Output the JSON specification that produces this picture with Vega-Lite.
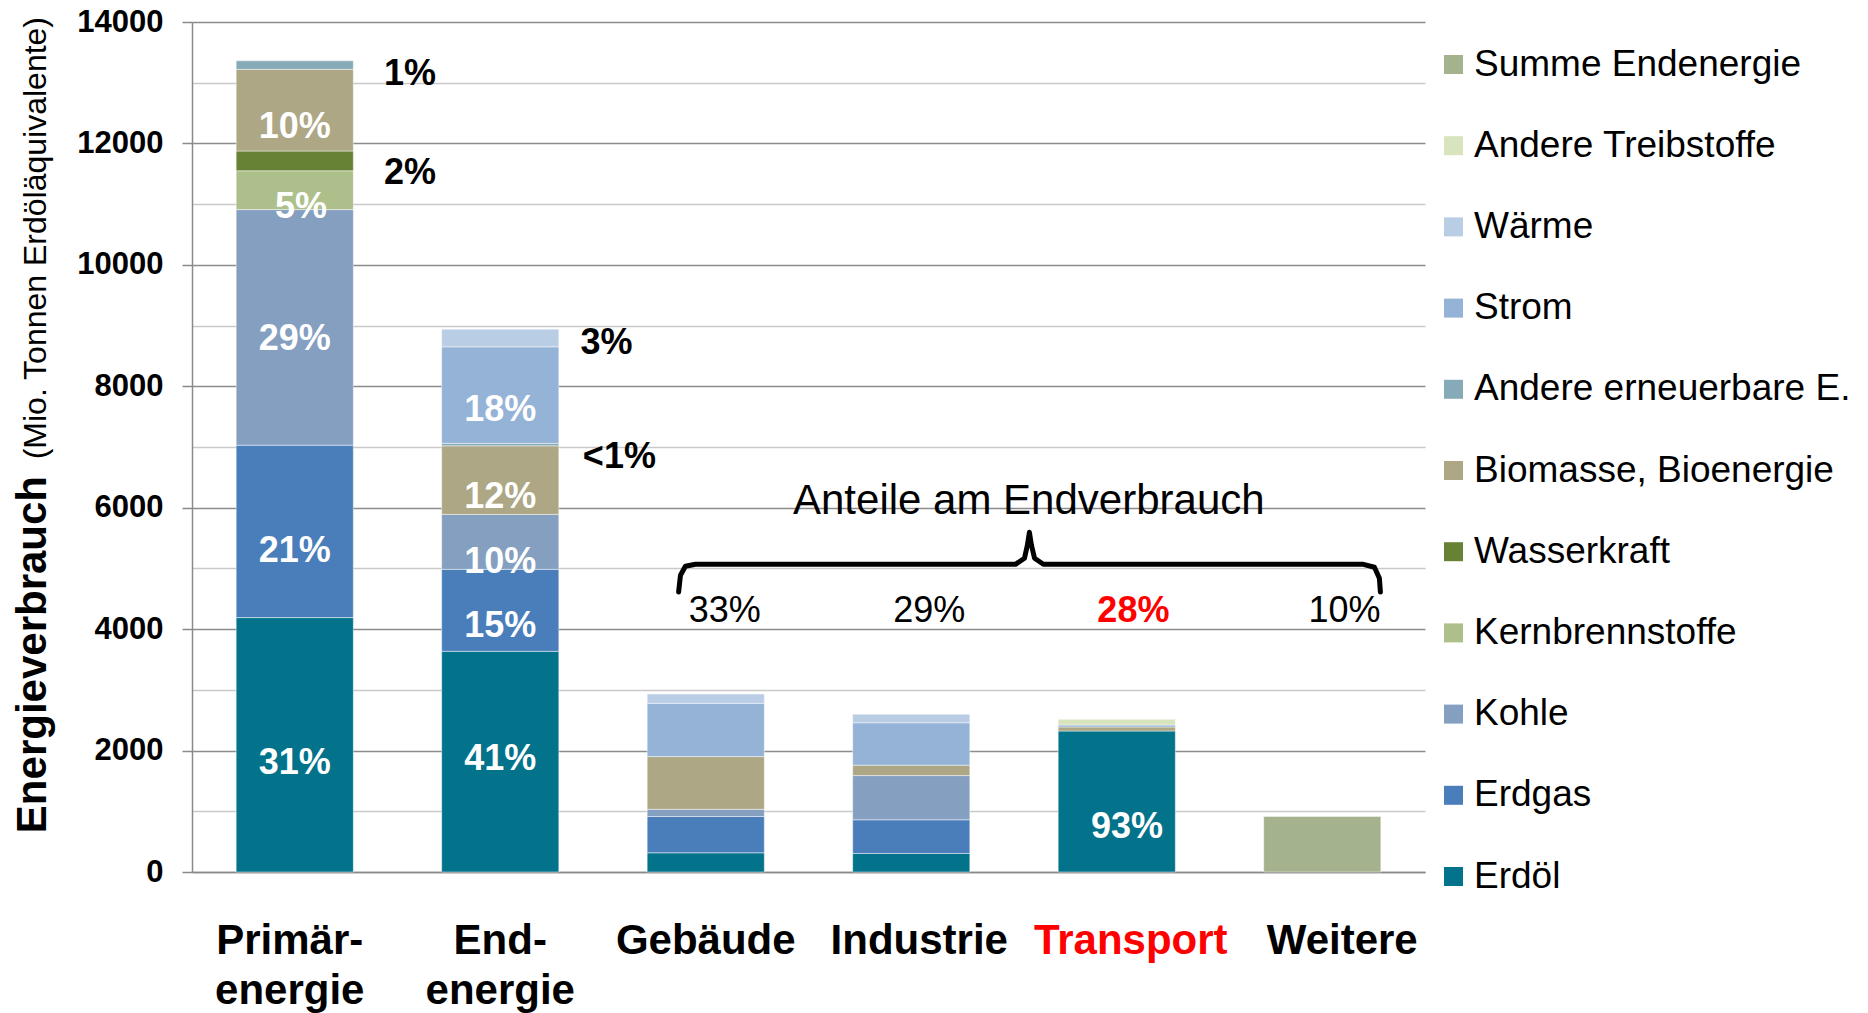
{
  "$schema": "https://vega.github.io/schema/vega-lite/v6.json",
  "width": 1233,
  "height": 850,
  "autosize": "none",
  "padding": {"left": 192, "top": 22, "right": 443, "bottom": 141},
  "background": "white",
  "config": {"view": {"stroke": null}, "font": "Liberation Sans"},
  "datasets": {
    "bars": [
      {"cat": "Primär-|energie", "src": "Erdöl", "val": 4190, "n": 1},
      {"cat": "Primär-|energie", "src": "Erdgas", "val": 2840, "n": 2},
      {"cat": "Primär-|energie", "src": "Kohle", "val": 3880, "n": 3},
      {"cat": "Primär-|energie", "src": "Kernbrennstoffe", "val": 640, "n": 4},
      {"cat": "Primär-|energie", "src": "Wasserkraft", "val": 325, "n": 5},
      {"cat": "Primär-|energie", "src": "Biomasse, Bioenergie", "val": 1345, "n": 6},
      {"cat": "Primär-|energie", "src": "Andere erneuerbare E.", "val": 140, "n": 7},
      {"cat": "End-|energie", "src": "Erdöl", "val": 3635, "n": 1},
      {"cat": "End-|energie", "src": "Erdgas", "val": 1350, "n": 2},
      {"cat": "End-|energie", "src": "Kohle", "val": 905, "n": 3},
      {"cat": "End-|energie", "src": "Biomasse, Bioenergie", "val": 1130, "n": 6},
      {"cat": "End-|energie", "src": "Andere erneuerbare E.", "val": 40, "n": 7},
      {"cat": "End-|energie", "src": "Strom", "val": 1590, "n": 8},
      {"cat": "End-|energie", "src": "Wärme", "val": 290, "n": 9},
      {"cat": "Gebäude", "src": "Erdöl", "val": 316, "n": 1},
      {"cat": "Gebäude", "src": "Erdgas", "val": 598, "n": 2},
      {"cat": "Gebäude", "src": "Kohle", "val": 119, "n": 3},
      {"cat": "Gebäude", "src": "Biomasse, Bioenergie", "val": 868, "n": 6},
      {"cat": "Gebäude", "src": "Strom", "val": 877, "n": 8},
      {"cat": "Gebäude", "src": "Wärme", "val": 153, "n": 9},
      {"cat": "Industrie", "src": "Erdöl", "val": 305, "n": 1},
      {"cat": "Industrie", "src": "Erdgas", "val": 555, "n": 2},
      {"cat": "Industrie", "src": "Kohle", "val": 728, "n": 3},
      {"cat": "Industrie", "src": "Biomasse, Bioenergie", "val": 172, "n": 6},
      {"cat": "Industrie", "src": "Strom", "val": 698, "n": 8},
      {"cat": "Industrie", "src": "Wärme", "val": 142, "n": 9},
      {"cat": "Transport", "src": "Erdöl", "val": 2322, "n": 1},
      {"cat": "Transport", "src": "Biomasse, Bioenergie", "val": 67, "n": 6},
      {"cat": "Transport", "src": "Strom", "val": 32, "n": 8},
      {"cat": "Transport", "src": "Andere Treibstoffe", "val": 94, "n": 10},
      {"cat": "Weitere", "src": "Summe Endenergie", "val": 915, "n": 11}
    ],
    "inner": [
      {"x": 0.5, "y": 1800, "t": "31%"},
      {"x": 0.5, "y": 5290, "t": "21%"},
      {"x": 0.5, "y": 8786, "t": "29%"},
      {"x": 0.53, "y": 10954, "t": "5%"},
      {"x": 0.5, "y": 12271, "t": "10%"},
      {"x": 1.5, "y": 1860, "t": "41%"},
      {"x": 1.5, "y": 4047, "t": "15%"},
      {"x": 1.5, "y": 5113, "t": "10%"},
      {"x": 1.5, "y": 6177, "t": "12%"},
      {"x": 1.5, "y": 7605, "t": "18%"},
      {"x": 4.55, "y": 748, "t": "93%"}
    ],
    "outer": [
      {"x": 0.934, "y": 13138, "t": "1%"},
      {"x": 0.934, "y": 11514, "t": "2%"},
      {"x": 1.89, "y": 8714, "t": "3%"},
      {"x": 1.902, "y": 6836, "t": "<1%"}
    ],
    "shares": [
      {"x": 2.593, "y": 4294, "t": "33%"},
      {"x": 3.588, "y": 4294, "t": "29%"},
      {"x": 5.608, "y": 4294, "t": "10%"}
    ],
    "shareRed": [
      {"x": 4.581, "y": 4294, "t": "28%"}
    ],
    "heading": [
      {"x": 4.072, "y": 5904, "t": "Anteile am Endverbrauch"}
    ],
    "brace": [
      {"i": 1, "bx": 2.368, "by": 4612},
      {"i": 2, "bx": 2.377, "by": 4887},
      {"i": 3, "bx": 2.401, "by": 5035},
      {"i": 4, "bx": 2.45, "by": 5068},
      {"i": 5, "bx": 4.007, "by": 5068},
      {"i": 6, "bx": 4.051, "by": 5167},
      {"i": 7, "bx": 4.065, "by": 5381},
      {"i": 8, "bx": 4.075, "by": 5595},
      {"i": 9, "bx": 4.085, "by": 5381},
      {"i": 10, "bx": 4.1, "by": 5167},
      {"i": 11, "bx": 4.143, "by": 5068},
      {"i": 12, "bx": 5.7, "by": 5068},
      {"i": 13, "bx": 5.754, "by": 5019},
      {"i": 14, "bx": 5.778, "by": 4838},
      {"i": 15, "bx": 5.783, "by": 4612}
    ],
    "ytitle": [
      {"x": -0.709, "y": 640, "t": "Energieverbrauch"}
    ],
    "ysub": [
      {"x": -0.709, "y": 6797, "t": "(Mio. Tonnen Erdöläquivalente)"}
    ]
  },
  "layer": [
    {
      "data": {"name": "bars"},
      "mark": {"type": "bar", "stroke": "#ffffff", "strokeWidth": 0.75, "strokeOpacity": 0.6},
      "encoding": {
        "x": {
          "field": "cat", "type": "nominal",
          "sort": ["Primär-|energie", "End-|energie", "Gebäude", "Industrie", "Transport", "Weitere"],
          "scale": {"paddingInner": 0.43, "paddingOuter": 0.215},
          "axis": {
            "title": null,
            "labelAngle": 0,
            "labelExpr": "split(datum.value, '|')",
            "labelFont": "Liberation Sans",
            "labelFontWeight": "bold",
            "labelFontSize": 42,
            "labelLineHeight": 50,
            "labelBaseline": "alphabetic",
            "labelPadding": 81,
            "labelLimit": 500,
            "labelColor": {"condition": {"test": "datum.value === 'Transport'", "value": "#ff0000"}, "value": "#000000"},
            "labelOffset": {"condition": [
              {"test": "datum.value === 'Weitere'", "value": 20},
              {"test": "datum.value === 'Transport'", "value": 14},
              {"test": "datum.value === 'Industrie'", "value": 8},
              {"test": "datum.value === 'Primär-|energie'", "value": -5}
            ], "value": 0},
            "ticks": false,
            "tickSize": 0,
            "domainColor": "#8a8a8a",
            "domainWidth": 1.5,
            "grid": false
          }
        },
        "y": {
          "field": "val", "type": "quantitative", "stack": "zero",
          "scale": {"domain": [0, 14000], "nice": false},
          "axis": {
            "title": null,
            "values": [0, 1000, 2000, 3000, 4000, 5000, 6000, 7000, 8000, 9000, 10000, 11000, 12000, 13000, 14000],
            "labelExpr": "datum.value % 2000 === 0 ? format(datum.value, 'd') : ''",
            "labelFont": "Liberation Sans",
            "labelFontWeight": "bold",
            "labelFontSize": 31,
            "labelColor": "#000000",
            "labelPadding": 19,
            "tickSize": 10,
            "tickColor": "#8a8a8a",
            "tickWidth": 1.5,
            "tickOpacity": {"condition": {"test": "datum.value % 2000 === 0", "value": 1}, "value": 0},
            "domainColor": "#8a8a8a",
            "domainWidth": 1.5,
            "grid": true,
            "gridWidth": 1.5,
            "gridColor": {"condition": {"test": "datum.value % 2000 === 0", "value": "#8c8c8c"}, "value": "#c9c9c9"}
          }
        },
        "color": {
          "field": "src", "type": "nominal",
          "scale": {
            "domain": ["Summe Endenergie", "Andere Treibstoffe", "Wärme", "Strom", "Andere erneuerbare E.", "Biomasse, Bioenergie", "Wasserkraft", "Kernbrennstoffe", "Kohle", "Erdgas", "Erdöl"],
            "range": ["#a4b28e", "#d7e4bd", "#b9cde5", "#95b3d7", "#86aab8", "#ada785", "#678135", "#adbf8b", "#849fc0", "#4a7ebb", "#03728b"]
          },
          "legend": {
            "title": null,
            "orient": "none",
            "legendX": 1243,
            "legendY": 24,
            "padding": 0,
            "symbolType": "square",
            "symbolSize": 361,
            "symbolStrokeWidth": 0,
            "labelFont": "Liberation Sans",
            "labelFontSize": 37,
            "labelColor": "#000000",
            "labelOffset": 2,
            "rowPadding": 43.2,
            "labelLimit": 600
          }
        },
        "order": {"field": "n", "type": "quantitative"}
      }
    },
    {
      "data": {"name": "inner"},
      "mark": {"type": "text", "font": "Liberation Sans", "fontWeight": "bold", "fontSize": 36, "color": "#ffffff", "align": "center", "baseline": "middle"},
      "encoding": {
        "x": {"field": "x", "type": "quantitative", "scale": {"domain": [0, 6], "nice": false, "zero": false}, "axis": null},
        "y": {"field": "y", "type": "quantitative", "scale": {"domain": [0, 14000], "nice": false}, "axis": null},
        "text": {"field": "t"}
      }
    },
    {
      "data": {"name": "outer"},
      "mark": {"type": "text", "font": "Liberation Sans", "fontWeight": "bold", "fontSize": 36, "color": "#000000", "align": "left", "baseline": "middle"},
      "encoding": {
        "x": {"field": "x", "type": "quantitative", "scale": {"domain": [0, 6], "nice": false, "zero": false}, "axis": null},
        "y": {"field": "y", "type": "quantitative", "scale": {"domain": [0, 14000], "nice": false}, "axis": null},
        "text": {"field": "t"}
      }
    },
    {
      "data": {"name": "shares"},
      "mark": {"type": "text", "font": "Liberation Sans", "fontSize": 36, "color": "#000000", "align": "center", "baseline": "middle"},
      "encoding": {
        "x": {"field": "x", "type": "quantitative", "scale": {"domain": [0, 6], "nice": false, "zero": false}, "axis": null},
        "y": {"field": "y", "type": "quantitative", "scale": {"domain": [0, 14000], "nice": false}, "axis": null},
        "text": {"field": "t"}
      }
    },
    {
      "data": {"name": "shareRed"},
      "mark": {"type": "text", "font": "Liberation Sans", "fontWeight": "bold", "fontSize": 36, "color": "#ff0000", "align": "center", "baseline": "middle"},
      "encoding": {
        "x": {"field": "x", "type": "quantitative", "scale": {"domain": [0, 6], "nice": false, "zero": false}, "axis": null},
        "y": {"field": "y", "type": "quantitative", "scale": {"domain": [0, 14000], "nice": false}, "axis": null},
        "text": {"field": "t"}
      }
    },
    {
      "data": {"name": "heading"},
      "mark": {"type": "text", "font": "Liberation Sans", "fontSize": 42, "color": "#000000", "align": "center", "baseline": "alphabetic"},
      "encoding": {
        "x": {"field": "x", "type": "quantitative", "scale": {"domain": [0, 6], "nice": false, "zero": false}, "axis": null},
        "y": {"field": "y", "type": "quantitative", "scale": {"domain": [0, 14000], "nice": false}, "axis": null},
        "text": {"field": "t"}
      }
    },
    {
      "data": {"name": "brace"},
      "mark": {"type": "line", "color": "#000000", "strokeWidth": 5, "strokeCap": "round", "strokeJoin": "round", "interpolate": "linear"},
      "encoding": {
        "x": {"field": "bx", "type": "quantitative", "scale": {"domain": [0, 6], "nice": false, "zero": false}, "axis": null},
        "y": {"field": "by", "type": "quantitative", "scale": {"domain": [0, 14000], "nice": false}, "axis": null},
        "order": {"field": "i", "type": "quantitative"}
      }
    },
    {
      "data": {"name": "ytitle"},
      "mark": {"type": "text", "font": "Liberation Sans", "fontWeight": "bold", "fontSize": 42, "color": "#000000", "align": "left", "baseline": "alphabetic", "angle": 270},
      "encoding": {
        "x": {"field": "x", "type": "quantitative", "scale": {"domain": [0, 6], "nice": false, "zero": false}, "axis": null},
        "y": {"field": "y", "type": "quantitative", "scale": {"domain": [0, 14000], "nice": false}, "axis": null},
        "text": {"field": "t"}
      }
    },
    {
      "data": {"name": "ysub"},
      "mark": {"type": "text", "font": "Liberation Sans", "fontSize": 32, "color": "#000000", "align": "left", "baseline": "alphabetic", "angle": 270},
      "encoding": {
        "x": {"field": "x", "type": "quantitative", "scale": {"domain": [0, 6], "nice": false, "zero": false}, "axis": null},
        "y": {"field": "y", "type": "quantitative", "scale": {"domain": [0, 14000], "nice": false}, "axis": null},
        "text": {"field": "t"}
      }
    }
  ],
  "resolve": {"scale": {"x": "independent", "y": "independent"}}
}
